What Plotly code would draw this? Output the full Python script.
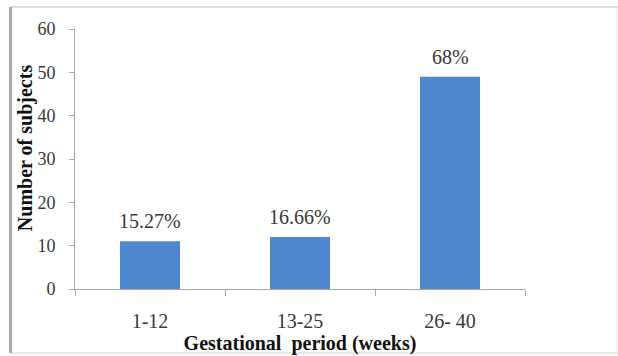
import plotly.graph_objects as go

# Gestational period groups and number of subjects in each
categories = ["1-12", "13-25", "26- 40"]
subjects = [11, 12, 49]
pct_labels = ["15.27%", "16.66%", "68%"]
y_ticks = [0, 10, 20, 30, 40, 50, 60]

SERIF = "Liberation Serif"
BAR_BLUE = "#4f86d0"
AXIS_GREY = "#a6a6a6"
TEXT_GREY = "#383838"

fig = go.Figure()
fig.add_trace(go.Bar(
    x=categories,
    y=subjects,
    marker=dict(color=BAR_BLUE, line=dict(width=0)),
    width=0.4,
    showlegend=False,
    hoverinfo="x+y",
))

# Percentage labels above each bar
for cat, val, lab in zip(categories, subjects, pct_labels):
    fig.add_annotation(
        x=cat, y=val, text=lab, showarrow=False,
        yanchor="middle", yshift=20,
        font=dict(family=SERIF, size=20, color=TEXT_GREY),
    )

# Vertical y-axis title
fig.add_annotation(
    xref="paper", yref="paper", x=-0.111, y=0.542,
    text="<b>Number of subjects</b>", textangle=-90, showarrow=False,
    xanchor="center", yanchor="middle",
    font=dict(family=SERIF, size=20, color="#111111"),
)

# Frame around the whole chart
frame = dict(type="line", xref="paper", yref="paper", layer="below")
fig.add_shape(**frame, x0=-0.1433, x1=1.21, y0=1.0846, y1=1.0846,
              line=dict(color="#d0d0d0", width=1.5))
fig.add_shape(**frame, x0=-0.1433, x1=1.21, y0=-0.246, y1=-0.246,
              line=dict(color="#dedede", width=1.5))
fig.add_shape(**frame, x0=-0.1433, x1=-0.1433, y0=-0.246, y1=1.0846,
              line=dict(color="#a8a8a8", width=3))
fig.add_shape(**frame, x0=1.2033, x1=1.2033, y0=-0.246, y1=1.0846,
              line=dict(color="#eeeeee", width=1))

fig.update_layout(
    width=618, height=356,
    margin=dict(l=75, r=93, t=29, b=67),
    paper_bgcolor="white", plot_bgcolor="white",
    font=dict(family=SERIF, color=TEXT_GREY),
    bargap=0.6,
)

fig.update_xaxes(
    type="category",
    showline=True, linecolor=AXIS_GREY, linewidth=1,
    ticks="outside", tickson="boundaries", ticklen=6,
    tickcolor=AXIS_GREY, ticklabelstandoff=14,
    tickfont=dict(family=SERIF, size=20, color=TEXT_GREY),
    showgrid=False, zeroline=False,
    title=dict(text="<b>Gestational  period (weeks)</b>", standoff=0,
               font=dict(family=SERIF, size=20, color="#111111")),
    automargin=False,
)
fig.update_yaxes(
    range=[0, 60], tickvals=y_ticks,
    showline=True, linecolor=AXIS_GREY, linewidth=1,
    ticks="outside", ticklen=5, tickcolor=AXIS_GREY,
    ticklabelstandoff=10,
    tickfont=dict(family=SERIF, size=18, color=TEXT_GREY),
    showgrid=False, zeroline=False,
    automargin=False,
)

fig.write_html("out.html")
